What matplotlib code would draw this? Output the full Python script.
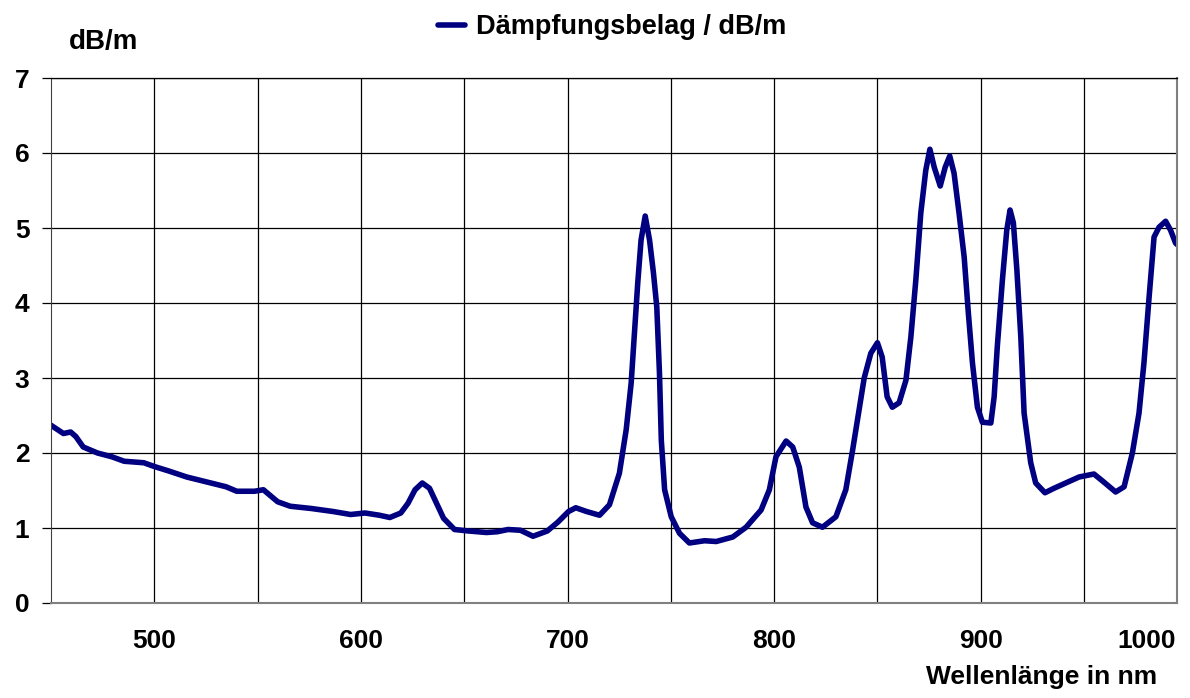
import numpy as np
import matplotlib.pyplot as plt

plt.rcParams['font.family'] = ['Liberation Sans', 'DejaVu Sans']
plt.rcParams['font.weight'] = 'bold'

# Wellenlänge in nm
wl = [450, 456, 459.5, 462, 465.6, 472.5, 479.4, 485.4, 494.9, 500, 507, 515.7,
      526, 534.7, 539.9, 548.5, 552.8, 555.4, 559.7, 565.8, 576, 586.5, 595,
      602, 609, 614, 619.3, 622.8, 626.2, 629.7, 633.2, 636.6, 640, 645.3,
      652.2, 660.8, 666, 671.2, 677.2, 683.3, 690.2, 695.4, 700.5, 704, 709.2,
      715.5, 720.3, 725.1, 728.4, 730.8, 732.4, 734, 735.6, 737.6, 739.7,
      741.6, 743.2, 744.5, 745.4, 747, 750.2, 754.2, 759, 766.3, 772, 780,
      786.4, 793.7, 797.7, 800.9, 805.8, 809, 812.2, 815.4, 818.6, 823.4,
      829.9, 834.7, 838, 843.6, 846.8, 850, 852.3, 854.7, 857.2, 860.5, 863.8,
      866.2, 868.6, 871, 873.4, 875.4, 877.5, 880.4, 882.8, 885, 887.1, 889.5,
      892, 894, 896, 898.4, 900.8, 904.9, 906.5, 908, 910.5, 912.6, 914.2,
      915.8, 917.5, 919.4, 921, 924.2, 926.6, 931.1, 935.5, 941.1, 947.6,
      954.8, 959.7, 965.3, 969.4, 973.4, 976.6, 979, 981.5, 983.9, 986.3,
      989.5, 991.9, 994.3, 995]
# Dämpfungsbelag in dB/m
att = [2.37, 2.26, 2.28, 2.22, 2.08, 2.0, 1.95, 1.89, 1.87, 1.82, 1.76, 1.68,
       1.61, 1.55, 1.49, 1.49, 1.51, 1.45, 1.35, 1.29, 1.26, 1.22, 1.18,
       1.2, 1.17, 1.14, 1.2, 1.33, 1.51, 1.6, 1.53, 1.33, 1.13, 0.98,
       0.96, 0.94, 0.95, 0.98, 0.97, 0.89, 0.96, 1.08, 1.22, 1.27, 1.22,
       1.17, 1.31, 1.73, 2.31, 2.93, 3.6, 4.27, 4.84, 5.16, 4.84,
       4.4, 3.95, 3.07, 2.17, 1.51, 1.15, 0.93, 0.8, 0.83, 0.82, 0.88,
       1.01, 1.24, 1.51, 1.95, 2.16, 2.08, 1.81, 1.28, 1.07, 1.01,
       1.15, 1.51, 2.04, 3.0, 3.33, 3.47, 3.28, 2.75, 2.61, 2.67, 2.97,
       3.55, 4.31, 5.2, 5.77, 6.05, 5.81, 5.56, 5.81, 5.96, 5.73, 5.2,
       4.61, 3.87, 3.2, 2.61, 2.41, 2.4, 2.75, 3.41, 4.31, 4.97, 5.24,
       5.07, 4.44, 3.55, 2.53, 1.87, 1.6, 1.47, 1.53, 1.6, 1.68,
       1.72, 1.61, 1.48, 1.55, 2.0, 2.53, 3.2, 4.08, 4.88, 5.01,
       5.09, 4.97, 4.8, 4.78]

x_ticks = [500, 600, 700, 800, 900]
y_ticks = [0, 1, 2, 3, 4, 5, 6, 7]

W, H = 1190, 698
fig = plt.figure(figsize=(W / 100, H / 100), dpi=100)
ax = fig.add_axes([51 / W, 1 - 603 / H, (1177 - 51) / W, (603 - 78) / H])

ax.plot(wl, att, color='#000080', linewidth=4, solid_capstyle='round',
        solid_joinstyle='round', label='Dämpfungsbelag / dB/m')

ax.set_xlim(450, 995)
ax.set_ylim(0, 7)
ax.set_xticks(np.arange(500, 995, 50), minor=True)
ax.set_xticks(x_ticks)
ax.set_yticks(y_ticks)
ax.grid(True, which='both', color='black', linewidth=0.9)
ax.tick_params(axis='x', which='both', length=0, pad=19, labelsize=19)
ax.tick_params(axis='y', length=6.5, width=0.9, pad=9, labelsize=19)
for s in ['bottom', 'right']:
    ax.spines[s].set_color('#808080')
    ax.spines[s].set_linewidth(1.5)
ax.spines['top'].set_linewidth(0.9)
ax.spines['left'].set_color('#404040')

# "1000" sits at the right end, just inside the frame
fig.text(1176 / W, 1 - 641 / H, '1000', ha='right', va='center',
         fontsize=19, fontweight='bold')
fig.text(1157 / W, 1 - 677 / H, 'Wellenlänge in nm', ha='right',
         va='center', fontsize=19, fontweight='bold')
fig.text(104 / W, 1 - 42 / H, 'dB/m', ha='center', va='center',
         fontsize=20, fontweight='bold')

ax.legend(loc='center left', bbox_to_anchor=(438 / W, 1 - 27 / H),
          bbox_transform=fig.transFigure, frameon=False,
          fontsize=19.5, handlelength=1.0, handletextpad=0.4,
          borderaxespad=0, borderpad=0)

fig.savefig('out.png', dpi=100)
